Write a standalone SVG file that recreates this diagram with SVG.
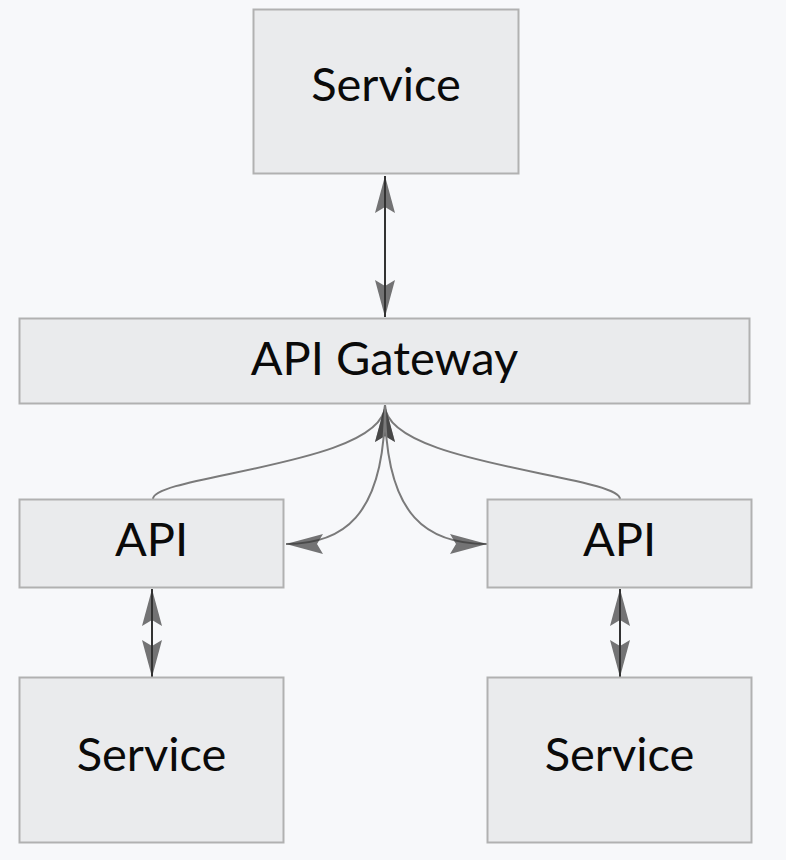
<svg xmlns="http://www.w3.org/2000/svg" width="786" height="860" viewBox="0 0 786 860">
  <style>
    .box { fill: #eaebed; stroke: #b1b1b1; stroke-width: 2; }
    .lbl { font-family: Lato, "Open Sans", sans-serif; font-size: 47px; fill: #0a0a0a; text-anchor: middle; }
    .straight { fill: none; stroke: #333; stroke-width: 2; }
    .curve { fill: none; stroke: #7a7a7a; stroke-width: 2; }
  </style>
  <defs>
    <marker id="ah" markerUnits="userSpaceOnUse" markerWidth="40" markerHeight="22" viewBox="-38 -11 40 22" refX="0" refY="0" orient="auto-start-reverse">
      <path d="M0,0 L-37,-10 L-31,0 L-37,10 Z" fill="#333" fill-opacity="0.68"/>
    </marker>
  </defs>
  <rect x="0" y="0" width="786" height="860" fill="#f7f8fa"/>
  <g id="connectors">
    <path class="straight" d="M385,176 L385,317" marker-start="url(#ah)" marker-end="url(#ah)"/>
    <path class="straight" d="M152,589 L152,677" marker-start="url(#ah)" marker-end="url(#ah)"/>
    <path class="straight" d="M620,589 L620,677" marker-start="url(#ah)" marker-end="url(#ah)"/>
    <path class="curve" d="M153,499 C153,475 385,465 385,405" marker-end="url(#ah)"/>
    <path class="curve" d="M620,499 C620,475 385,465 385,405" marker-end="url(#ah)"/>
    <path class="curve" d="M385,405 C385,520 340,544 286,544" marker-end="url(#ah)"/>
    <path class="curve" d="M385,405 C385,520 430,544 487,544" marker-end="url(#ah)"/>
  </g>
  <g id="service-top">
    <rect class="box" x="253.5" y="9.5" width="265" height="164"/>
    <text class="lbl" x="386" y="101">Service</text>
  </g>
  <g id="api-gateway">
    <rect class="box" x="19.5" y="318.5" width="730" height="85"/>
    <text class="lbl" x="384.5" y="375">API Gateway</text>
  </g>
  <g id="api-left">
    <rect class="box" x="19.5" y="499.5" width="264" height="88"/>
    <text class="lbl" x="151.5" y="556">API</text>
  </g>
  <g id="api-right">
    <rect class="box" x="487.5" y="499.5" width="264" height="88"/>
    <text class="lbl" x="619.5" y="556">API</text>
  </g>
  <g id="service-left">
    <rect class="box" x="19.5" y="677.5" width="264" height="165"/>
    <text class="lbl" x="151.5" y="771">Service</text>
  </g>
  <g id="service-right">
    <rect class="box" x="487.5" y="677.5" width="264" height="165"/>
    <text class="lbl" x="619.5" y="771">Service</text>
  </g>
</svg>
